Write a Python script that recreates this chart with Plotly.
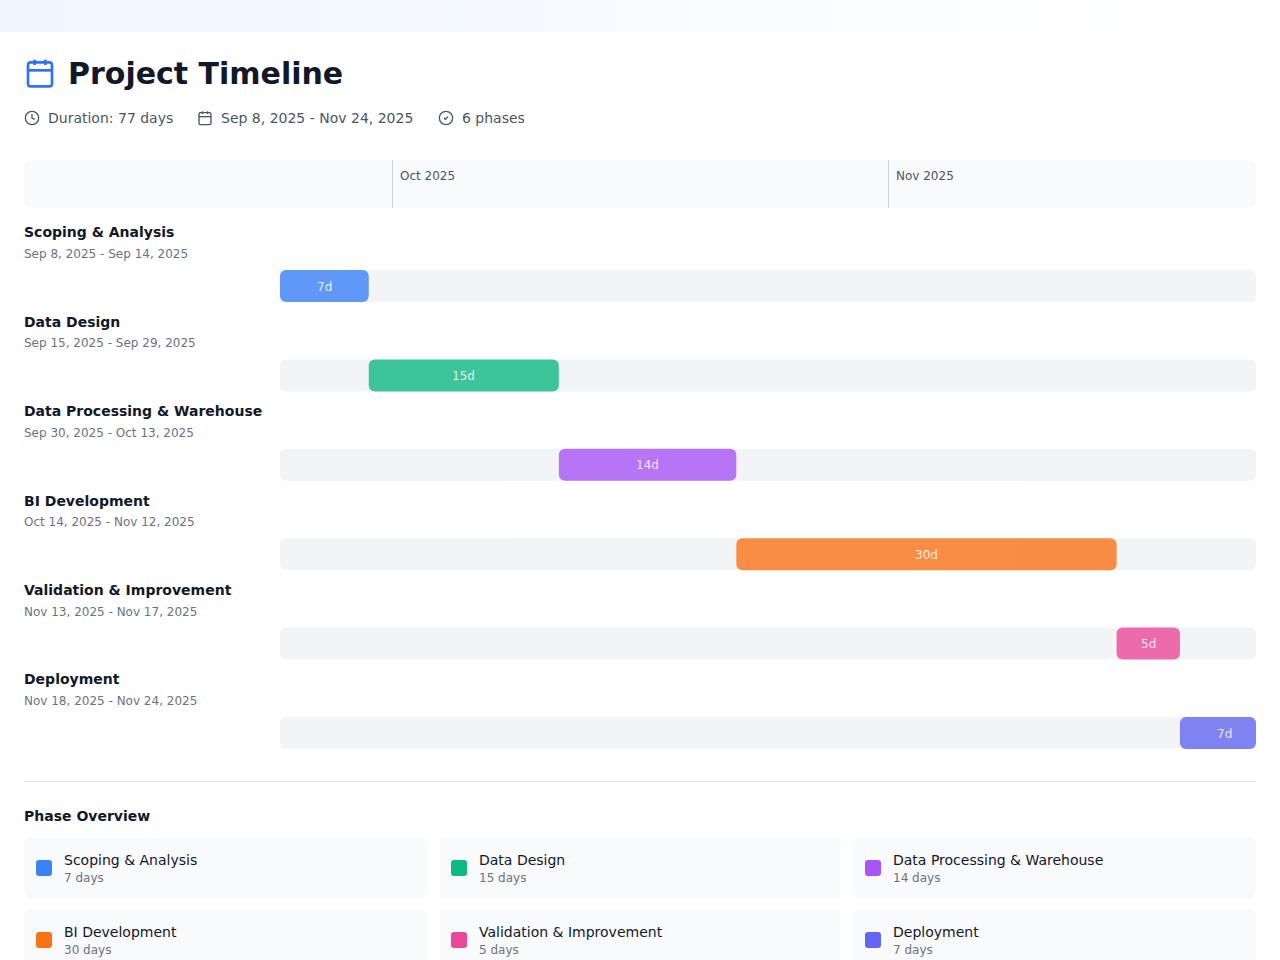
import pandas as pd
import plotly.graph_objects as go

# ---- timeline data ----
phases = ["Scoping & Analysis", "Data Design", "Data Processing & Warehouse",
          "BI Development", "Validation & Improvement", "Deployment"]
start_dates = ["2025-09-08", "2025-09-15", "2025-09-30", "2025-10-14", "2025-11-13", "2025-11-18"]
end_dates = ["2025-09-14", "2025-09-29", "2025-10-13", "2025-11-12", "2025-11-17", "2025-11-24"]
durations = [7, 15, 14, 30, 5, 7]
date_labels = ["Sep 8, 2025 - Sep 14, 2025", "Sep 15, 2025 - Sep 29, 2025", "Sep 30, 2025 - Oct 13, 2025",
               "Oct 14, 2025 - Nov 12, 2025", "Nov 13, 2025 - Nov 17, 2025", "Nov 18, 2025 - Nov 24, 2025"]
colors = ["#3b82f6", "#10b981", "#a855f7", "#f97316", "#ec4899", "#6366f1"]
month_starts = ["2025-10-01", "2025-11-01"]
month_labels = ["Oct 2025", "Nov 2025"]
timeline_start = "2025-09-08"
timeline_end = "2025-11-24"

W, H = 1280, 960
FONT = "DejaVu Sans"
DAY_MS = 86400000


def px(x):
    return x / W


def py(y):
    return 1 - y / H


def rounded_path(x0, y0, x1, y1, r):
    """SVG path of a rounded rectangle, given in page pixels."""
    pts = [
        f"M{px(x0 + r)},{py(y0)}", f"L{px(x1 - r)},{py(y0)}", f"Q{px(x1)},{py(y0)} {px(x1)},{py(y0 + r)}",
        f"L{px(x1)},{py(y1 - r)}", f"Q{px(x1)},{py(y1)} {px(x1 - r)},{py(y1)}",
        f"L{px(x0 + r)},{py(y1)}", f"Q{px(x0)},{py(y1)} {px(x0)},{py(y1 - r)}",
        f"L{px(x0)},{py(y0 + r)}", f"Q{px(x0)},{py(y0)} {px(x0 + r)},{py(y0)}", "Z",
    ]
    return " ".join(pts)


def rrect(x0, y0, x1, y1, r, fill=None, stroke=None, width=0):
    return dict(type="path", xref="paper", yref="paper", layer="below", path=rounded_path(x0, y0, x1, y1, r),
                fillcolor=fill or "rgba(0,0,0,0)",
                line=dict(color=stroke or "rgba(0,0,0,0)", width=width))


def polyline(points, stroke, width):
    d = "M" + " L".join(f"{px(x)},{py(y)}" for x, y in points)
    return dict(type="path", xref="paper", yref="paper", layer="below", path=d,
                line=dict(color=stroke, width=width))


def circle(cx, cy, r, stroke, width):
    return dict(type="circle", xref="paper", yref="paper", layer="below",
                x0=px(cx - r), x1=px(cx + r), y0=py(cy + r), y1=py(cy - r),
                line=dict(color=stroke, width=width))


def text(x, y, s, size, color, bold=False):
    # annotation boxes carry about a pixel of inset on the left
    return dict(xref="paper", yref="paper", x=px(x - 1), y=py(y), text=f"<b>{s}</b>" if bold else s,
                xanchor="left", yanchor="middle", showarrow=False, borderpad=0, align="left",
                font=dict(family=FONT, size=size, color=color))


def calendar_icon(x, y, scale, stroke, width):
    s = scale
    return [
        rrect(x + 3 * s, y + 4 * s, x + 21 * s, y + 22 * s, 2 * s, None, stroke, width),
        polyline([(x + 16 * s, y + 2 * s), (x + 16 * s, y + 6 * s)], stroke, width),
        polyline([(x + 8 * s, y + 2 * s), (x + 8 * s, y + 6 * s)], stroke, width),
        polyline([(x + 3 * s, y + 10 * s), (x + 21 * s, y + 10 * s)], stroke, width),
    ]


# ---- page furniture ----
shapes = []

# soft tint behind the top of the card, fading out to the right
tint_left = (239, 246, 255)
tint_stop = 1150
for sx in range(0, W, 8):
    t = min(sx / tint_stop, 1)
    shade = tuple(round(c + (255 - c) * t) for c in tint_left)
    shapes.append(dict(type="rect", xref="paper", yref="paper", layer="below",
                       x0=px(sx), x1=px(sx + 8), y0=py(32), y1=py(0),
                       fillcolor=f"rgb{shade}", line=dict(width=0)))
shapes.append(rrect(0, 32, 1300, 1000, 12, "#ffffff"))

META = "#4b5563"
shapes += calendar_icon(24, 57, 4 / 3, "#2f73f2", 2.67)
shapes += [circle(32, 118, 6.67, META, 1.33),
           polyline([(32, 114), (32, 118), (34.67, 119.33)], META, 1.33)]
shapes += calendar_icon(197, 110, 2 / 3, META, 1.33)
shapes += [circle(446, 118, 6.67, META, 1.33),
           polyline([(444, 118), (445.33, 119.33), (448, 116.67)], META, 1.33)]

# month header strip and the divider above the overview
shapes.append(rrect(24, 160, 1256, 208, 8, "#f9fafb"))
shapes.append(dict(type="rect", xref="paper", yref="paper", layer="below",
                   x0=px(24), x1=px(1256), y0=py(782), y1=py(781),
                   fillcolor="#e5e7eb", line=dict(width=0)))

annotations = [
    text(68, 73, "Project Timeline", 30, "#111827", True),
    text(48, 118, f"Duration: {(pd.Timestamp(timeline_end) - pd.Timestamp(timeline_start)).days} days", 14, META),
    text(221, 118, "Sep 8, 2025 - Nov 24, 2025", 14, META),
    text(462, 118, f"{len(phases)} phases", 14, META),
    text(24, 816, "Phase Overview", 14, "#111827", True),
]

# phase name and date range sit above each row's track
for name, label in zip(phases, date_labels):
    for s, shift, size, color, bold in ((name, 53.6, 14, "#111827", True), (label, 32, 12, "#6b7280", False)):
        annotations.append(dict(xref="paper", yref="y", x=px(23), y=name, yshift=shift,
                                text=f"<b>{s}</b>" if bold else s, xanchor="left", yanchor="middle",
                                showarrow=False, borderpad=0,
                                font=dict(family=FONT, size=size, color=color)))

# month names on the header scale
for day, label in zip(month_starts, month_labels):
    annotations.append(dict(xref="x2", yref="paper", x=day, y=py(176), xshift=6, text=label,
                            xanchor="left", yanchor="middle", showarrow=False, borderpad=0,
                            font=dict(family=FONT, size=12, color=META)))

# overview cards
card_x = [(24, 427), (439, 841), (853, 1256)]
card_y = [838, 910]
for i, (name, days, color) in enumerate(zip(phases, durations, colors)):
    x0, x1 = card_x[i % 3]
    y0 = card_y[i // 3]
    shapes.append(rrect(x0, y0, x1, y0 + 60, 8, "#f9fafb"))
    shapes.append(rrect(x0 + 12, y0 + 22, x0 + 28, y0 + 38, 3, color))
    annotations.append(text(x0 + 40, y0 + 22, name, 14, "#111827"))
    annotations.append(text(x0 + 40, y0 + 40, f"{days} days", 12, "#6b7280"))

# ---- gantt rows ----
span_start = pd.Timestamp(timeline_start)
span_end = pd.Timestamp(timeline_end)
starts = [pd.Timestamp(d) for d in start_dates]
# a phase may not run past the end of the timeline
lengths_ms = [min(d, (span_end - s).days) * DAY_MS for d, s in zip(durations, starts)]
start_text = [s.isoformat() for s in starts]
track_ms = (span_end - span_start).days * DAY_MS

# duration labels are centred on the full length of the phase
for name, s, days in zip(phases, starts, durations):
    annotations.append(dict(xref="x", yref="y", x=(s + pd.Timedelta(days=days / 2)).isoformat(), y=name,
                            yshift=-0.5, text=f"{days}d", showarrow=False, borderpad=0,
                            font=dict(family=FONT, size=12, color="rgba(255,255,255,0.85)")))

BAR = 32 / 89.4
fig = go.Figure()

fig.add_trace(go.Bar(
    name="track", orientation="h", y=phases, base=[timeline_start] * len(phases), x=[track_ms] * len(phases),
    width=BAR, marker=dict(color="#f3f4f6", line=dict(width=0)),
    hoverinfo="skip", showlegend=False, xaxis="x", yaxis="y"))
fig.add_trace(go.Bar(
    name="phase", orientation="h", y=phases, base=start_text, x=lengths_ms,
    width=BAR, marker=dict(color=colors, line=dict(width=0)), opacity=0.8,
    hoverinfo="skip", showlegend=False, xaxis="x", yaxis="y"))

# month separators on the header scale
sep_x, sep_y = [], []
for day in month_starts:
    sep_x += [day, day, None]
    sep_y += [0, 1, None]
fig.add_trace(go.Scatter(x=sep_x, y=sep_y, mode="lines", line=dict(color="#d1d5db", width=1),
                         hoverinfo="skip", showlegend=False, xaxis="x2", yaxis="y2"))

fig.update_layout(
    width=W, height=H, autosize=False, margin=dict(l=0, r=0, t=0, b=0),
    paper_bgcolor="#ffffff", plot_bgcolor="rgba(0,0,0,0)",
    barmode="overlay", barcornerradius=6, showlegend=False,
    font=dict(family=FONT),
    shapes=shapes, annotations=annotations,
    xaxis=dict(type="date", range=[timeline_start, timeline_end], domain=[px(280), px(1256)],
               visible=False, anchor="y"),
    yaxis=dict(type="category", categoryorder="array", categoryarray=phases, range=[5.5, -0.5],
               domain=[py(777.7), py(241.3)], visible=False, anchor="x"),
    xaxis2=dict(type="date", range=[timeline_start, timeline_end], domain=[px(24.5), px(1256.5)],
                visible=False, anchor="y2"),
    yaxis2=dict(range=[0, 1], domain=[py(208), py(160)], visible=False, anchor="x2"),
)

fig.write_html("out.html")
